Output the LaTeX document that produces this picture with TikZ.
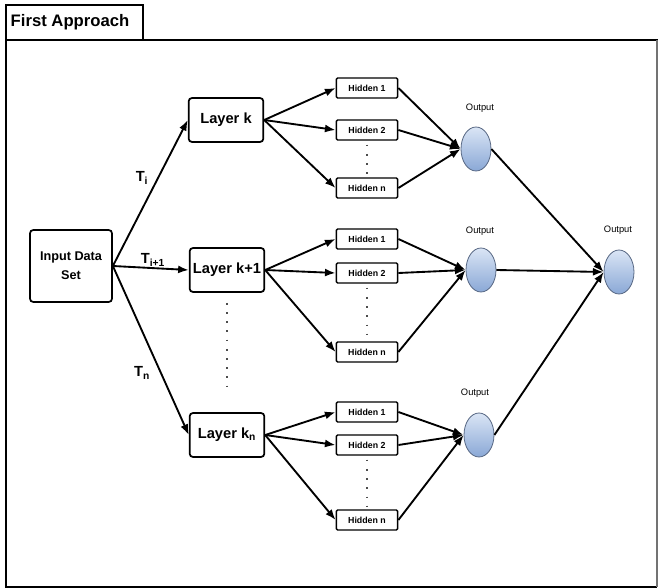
\documentclass[tikz,border=0pt]{standalone}
\usepackage{fontspec}
\setmainfont{Liberation Sans}
\usetikzlibrary{arrows.meta,shapes.geometric}
\definecolor{outtop}{RGB}{218,229,245}
\definecolor{outbot}{RGB}{138,168,214}
\definecolor{outrim}{RGB}{88,104,132}

\begin{document}
\begin{tikzpicture}[x=0.75pt,y=0.75pt,yscale=-1,xscale=1,
	box/.style={draw, rounded corners=2.5pt, line width=1.3pt, align=center, inner sep=1pt},
	inbox/.style={box, minimum width=61.5pt, minimum height=54pt, font=\bfseries\fontsize{9.5}{14}\selectfont},
	layerbox/.style={box, minimum width=56pt, minimum height=33pt, font=\bfseries\fontsize{11}{13}\selectfont},
	hidbox/.style={draw, rounded corners=1pt, line width=1.1pt, minimum width=46pt, minimum height=15pt, inner sep=0pt, font=\bfseries\fontsize{6.6}{8}\selectfont},
	outnode/.style={ellipse, draw=outrim, line width=0.6pt, minimum width=22.5pt, minimum height=33pt, inner sep=0pt, top color=outtop, bottom color=outbot},
	outlabel/.style={font=\fontsize{7}{8}\selectfont},
	tlabel/.style={font=\bfseries\fontsize{11}{13}\selectfont},
	link/.style={-{Latex[length=8pt,width=6pt]}, line width=1.4pt},
	dots/.style={dash pattern=on 1.3pt off 5.6pt, line width=1.2pt, black!70}
	]
	\useasboundingbox (0,0) rectangle (658,588);

	%Frame and title tab
	\draw [line width=1.4pt] (6,40) -- (6,587) -- (657,587) ;
	\draw [line width=1.4pt] (6,40) -- (658,40) ;
	\draw [black!55, line width=0.8pt] (657,40) -- (657,587) ;
	\draw [line width=1.4pt] (6,40) -- (6,5) -- (143,5) -- (143,40) ;
	\node [font=\bfseries\fontsize{12.5}{15}\selectfont] (title) at (70,22) {First Approach};

	%Input and layers
	\node [inbox] (input) at (71,266) {Input Data\\Set};
	\node [layerbox] (layerk) at (226,120) {Layer k};
	\node [layerbox] (layerk1) at (227,270) {Layer k+1};
	\node [layerbox] (layerkn) at (227,435) {Layer k\textsubscript{n}};

	%Hidden boxes
	\node [hidbox] (ha1) at (367,88) {Hidden 1};
	\node [hidbox] (ha2) at (367,130) {Hidden 2};
	\node [hidbox] (han) at (367,188) {Hidden n};
	\node [hidbox] (hb1) at (367,239) {Hidden 1};
	\node [hidbox] (hb2) at (367,273) {Hidden 2};
	\node [hidbox] (hbn) at (367,352) {Hidden n};
	\node [hidbox] (hc1) at (367,412) {Hidden 1};
	\node [hidbox] (hc2) at (367,445) {Hidden 2};
	\node [hidbox] (hcn) at (367,520) {Hidden n};

	%Outputs
	\node [outnode] (outa) at (476,149) {};
	\node [outnode] (outb) at (481,270) {};
	\node [outnode] (outc) at (479,435) {};
	\node [outnode] (outf) at (619,272) {};
	\node [outlabel] (outalab) at (480,108) {Output};
	\node [outlabel] (outblab) at (480,231) {Output};
	\node [outlabel] (outclab) at (475,393) {Output};
	\node [outlabel] (outflab) at (618,230) {Output};

	%Input to layers
	\draw [link] (input.east) -- (layerk.west) ;
	\draw [link] (input.east) -- (layerk1.west) ;
	\draw [link] (input.east) -- (layerkn.west) ;
	\node [tlabel] (ti) at (142,178) {T\textsubscript{i}};
	\node [tlabel] (ti1) at (153,260) {T\textsubscript{i+1}};
	\node [tlabel] (tn) at (142,373) {T\textsubscript{n}};

	%Layers to hidden, hidden to outputs
	\foreach \l/\g in {layerk/a, layerk1/b, layerkn/c} {
		\foreach \h in {1,2,n} {
			\draw [link] (\l.east) -- (h\g\h.west) ;
			\draw [link] (h\g\h.east) -- (out\g.west) ;
		}
	}

	%Outputs to final output
	\draw [link] (outa.east) -- (outf.west) ;
	\draw [link] (outb.east) -- (outf.west) ;
	\draw [link] (outc.east) -- (outf.west) ;

	%Dotted gaps
	\draw [dots] (layerk1.south) ++(0,10) -- (227,393) ;
	\draw [dots] (ha2.south) ++(0,4) -- (367,177) ;
	\draw [dots] (hb2.south) ++(0,4) -- (367,340) ;
	\draw [dots] (hc2.south) ++(0,4) -- (367,508) ;

\end{tikzpicture}
\end{document}
